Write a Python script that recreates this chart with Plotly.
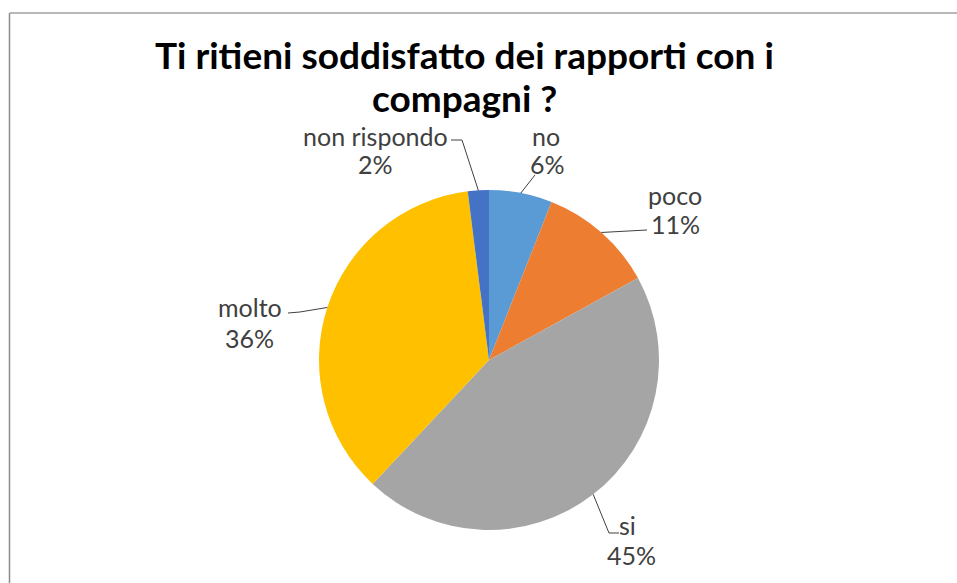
import math
import plotly.graph_objects as go

# ---- data ----
labels = ["no", "poco", "si", "molto", "non rispondo"]
values = [6, 11, 45, 36, 2]
colors = ["#5B9BD5", "#ED7D31", "#A5A5A5", "#FFC000", "#4472C4"]
title_lines = ["Ti ritieni soddisfatto dei rapporti con i", "compagni ?"]

# ---- layout constants (pixels) ----
W, H = 957, 583
CX, CY, R = 489, 360, 170
LABEL_SIZE = 25
TITLE_SIZE = 37
TITLE_X = 464
TITLE_BASELINES = [67, 110]
# (x centre, baseline) of the name line and of the percent line
label_pos = {
    "no": ((546, 144), (547, 172)),
    "poco": ((675, 203), (675, 232)),
    "si": ((627, 533), (631, 563)),
    "molto": ((250, 315), (249, 346)),
    "non rispondo": ((375, 144), (375, 172)),
}
leader_end = {
    "no": [(535, 175)],
    "poco": [(647, 230)],
    "si": [(609, 533), (619, 533)],
    "molto": [(300, 312), (288, 313)],
    "non rispondo": [(462, 140), (451, 140)],
}


def px(x, y):
    return x / W, 1 - y / H


fig = go.Figure(
    go.Pie(
        labels=labels,
        values=values,
        sort=False,
        direction="clockwise",
        rotation=0,
        marker=dict(colors=colors, line=dict(width=0)),
        textinfo="none",
        hoverinfo="label+percent",
        showlegend=False,
        domain=dict(x=[(CX - R) / W, (CX + R) / W], y=[(H - CY - R) / H, (H - CY + R) / H]),
    )
)

total = sum(values)
annotations = []
shapes = []
cum = 0
for lab, v in zip(labels, values):
    mid = (cum + v / 2) / total * 2 * math.pi
    cum += v
    ex, ey = CX + R * math.sin(mid), CY - R * math.cos(mid)
    pts = [(ex, ey)] + leader_end[lab]
    path = "M " + " L ".join(f"{px(a, b)[0]:.5f},{px(a, b)[1]:.5f}" for a, b in pts)
    shapes.append(dict(type="path", xref="paper", yref="paper", path=path,
                       line=dict(color="#404040", width=1)))
    pct = round(v / total * 100)
    for txt, (lx, base) in zip([lab, f"{pct}%"], label_pos[lab]):
        x, y = px(lx, base - 0.33 * LABEL_SIZE)
        annotations.append(dict(
            x=x, y=y, xref="paper", yref="paper", xanchor="center", yanchor="middle",
            text=txt, showarrow=False, borderpad=0,
            font=dict(family="Lato", size=LABEL_SIZE, color="#404040"),
        ))

# title (one annotation per line)
for line, base in zip(title_lines, TITLE_BASELINES):
    x, y = px(TITLE_X, base - 0.33 * TITLE_SIZE)
    annotations.append(dict(
        x=x, y=y, xref="paper", yref="paper", xanchor="center", yanchor="middle",
        text=line, showarrow=False, borderpad=0,
        font=dict(family="Lato", size=TITLE_SIZE, color="#000000", weight="bold"),
    ))

# chart-area frame (top and left edges visible)
shapes.append(dict(type="line", xref="paper", yref="paper", x0=px(9.5, 0)[0], x1=px(9.5, 0)[0],
                   y0=px(0, 13)[1], y1=0, line=dict(color="#8c8c8c", width=1.5)))
shapes.append(dict(type="line", xref="paper", yref="paper", x0=px(9.5, 0)[0], x1=1,
                   y0=px(0, 13)[1], y1=px(0, 13)[1], line=dict(color="#a0a0a0", width=1.5)))

fig.update_layout(
    width=W, height=H,
    margin=dict(l=0, r=0, t=0, b=0),
    paper_bgcolor="white", plot_bgcolor="white",
    annotations=annotations,
    shapes=shapes,
)

fig.write_html("out.html", config={"displayModeBar": False},
               post_script="document.body.style.margin='0';")
